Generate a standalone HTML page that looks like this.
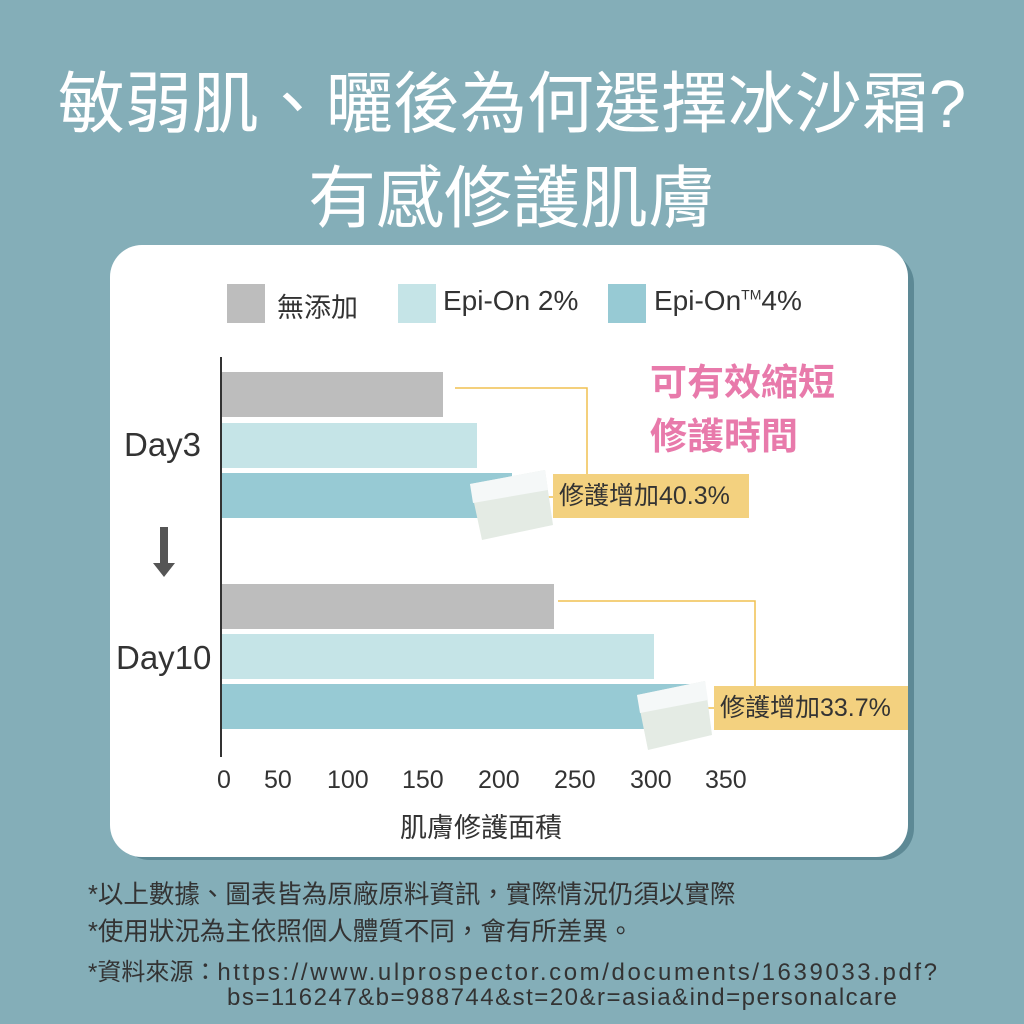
<!DOCTYPE html>
<html><head><meta charset="utf-8"><style>
body{margin:0;width:1024px;height:1024px;background:#84aeb8;position:relative;overflow:hidden;font-family:"Liberation Sans","Noto Sans CJK TC",sans-serif}
.a{position:absolute;white-space:nowrap}
.t{color:#fff;left:0;width:1024px;text-align:center}
.bar{position:absolute;height:45px}
.g{background:#bdbdbd}.l{background:#c5e4e7}.k{background:#97cad4}
.n{font-size:25px;color:#333;top:766px}
.f{font-size:24px;color:#333;left:88px}
.box{position:absolute;background:#f3d17f;color:#333;font-size:25px;line-height:44px;padding-left:6px;box-sizing:border-box}
</style></head><body>
<div class="a t" style="top:50px;font-size:67px">敏弱肌、曬後為何選擇冰沙霜?</div>
<div class="a t" style="top:143px;font-size:68px">有感修護肌膚</div>
<div class="a" style="left:118px;top:252px;width:796px;height:608px;border-radius:32px;background:#5d8995"></div>
<div class="a" style="left:110px;top:245px;width:798px;height:612px;border-radius:32px;background:#fff"></div>
<div class="a g" style="left:227px;top:284px;width:38px;height:39px"></div>
<div class="a" style="left:277px;top:286px;font-size:27px;color:#333">無添加</div>
<div class="a l" style="left:398px;top:284px;width:38px;height:39px"></div>
<div class="a" style="left:443px;top:285px;font-size:28px;color:#333">Epi-On 2%</div>
<div class="a k" style="left:608px;top:284px;width:38px;height:39px"></div>
<div class="a" style="left:654px;top:285px;font-size:28px;color:#333">Epi-On<sup style="font-size:14px">TM</sup>4%</div>
<div class="a" style="left:220px;top:357px;width:2px;height:400px;background:#333"></div>
<div class="bar g" style="left:222px;top:372px;width:221px"></div>
<div class="bar l" style="left:222px;top:423px;width:255px"></div>
<div class="bar k" style="left:222px;top:473px;width:290px"></div>
<div class="bar g" style="left:222px;top:584px;width:332px"></div>
<div class="bar l" style="left:222px;top:634px;width:432px"></div>
<div class="bar k" style="left:222px;top:684px;width:470px"></div>
<svg class="a" style="left:0;top:0" width="1024" height="1024">
<g stroke="#f0c050" stroke-width="1.5" fill="none">
<polyline points="455,388 587,388 587,474"/><line x1="548" y1="497" x2="555" y2="497"/>
<polyline points="558,601 755,601 755,686"/><line x1="706" y1="708" x2="716" y2="708"/></g>
<g>
<path d="M470,484 L545,470 L553,525 L482,540 Z" fill="#e4ebe4"/>
<path d="M470,484 L545,470 L548,490 L473,503 Z" fill="#f5f8f8"/>
<path d="M637,695 L705,681 L712,735 L648,750 Z" fill="#e4ebe4"/>
<path d="M637,695 L705,681 L708,700 L640,713 Z" fill="#f5f8f8"/>
</g>
<path d="M160,527h8v36h7l-11,14l-11,-14h7z" fill="#555"/>
</svg>
<div class="box" style="left:553px;top:474px;width:196px">修護增加40.3%</div>
<div class="box" style="left:714px;top:686px;width:194px">修護增加33.7%</div>
<div class="a" style="left:650px;top:356px;font-size:37px;font-weight:bold;color:#e87aab;line-height:54px">可有效縮短<br>修護時間</div>
<div class="a" style="left:124px;top:426px;font-size:33px;color:#333">Day3</div>
<div class="a" style="left:116px;top:639px;font-size:33px;color:#333">Day10</div>
<div class="a n" style="left:217px">0</div>
<div class="a n" style="left:264px">50</div>
<div class="a n" style="left:327px">100</div>
<div class="a n" style="left:402px">150</div>
<div class="a n" style="left:478px">200</div>
<div class="a n" style="left:554px">250</div>
<div class="a n" style="left:630px">300</div>
<div class="a n" style="left:705px">350</div>
<div class="a" style="left:400px;top:806px;font-size:27px;color:#333">肌膚修護面積</div>
<div class="a f" style="top:874px;font-size:25.5px">*以上數據、圖表皆為原廠原料資訊，實際情況仍須以實際</div>
<div class="a f" style="top:911px;font-size:25.5px">*使用狀況為主依照個人體質不同，會有所差異。</div>
<div class="a f" style="top:952px">*資料來源：<span style="letter-spacing:2.6px">https://www.ulprospector.com/documents/1639033.pdf?</span></div>
<div class="a f" style="top:984px;left:227px;letter-spacing:1.5px">bs=116247&amp;b=988744&amp;st=20&amp;r=asia&amp;ind=personalcare</div>
</body></html>
